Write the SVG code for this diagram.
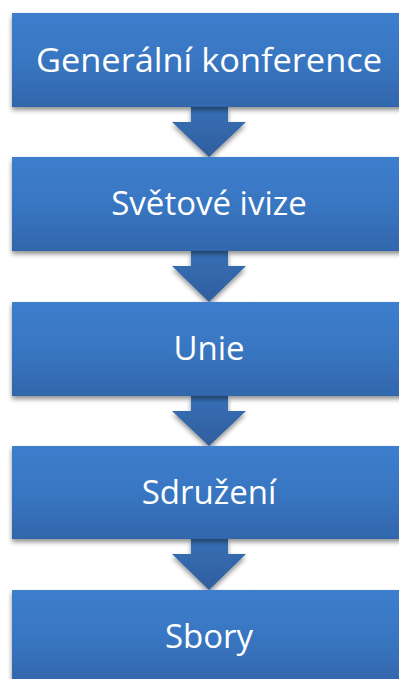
<svg xmlns="http://www.w3.org/2000/svg" width="399" height="679" viewBox="0 0 399 679">
<defs>
<linearGradient id="gBox" x1="0" y1="0" x2="0" y2="1">
<stop offset="0" stop-color="#3c7ecd"/>
<stop offset="0.5" stop-color="#3976c2"/>
<stop offset="1" stop-color="#3266ab"/>
</linearGradient>
<linearGradient id="gArr" x1="0" y1="0" x2="0" y2="1">
<stop offset="0" stop-color="#3770b6"/>
<stop offset="1" stop-color="#2f5e9d"/>
</linearGradient>
<filter id="sh" x="-10%" y="-10%" width="120%" height="140%">
<feGaussianBlur in="SourceAlpha" stdDeviation="2.5"/>
<feOffset dx="0" dy="3" result="b"/>
<feComponentTransfer><feFuncA type="linear" slope="0.45"/></feComponentTransfer>
<feMerge><feMergeNode/><feMergeNode in="SourceGraphic"/></feMerge>
</filter>
</defs>
<style>
.box{fill:url(#gBox);filter:url(#sh)}
.arr{fill:url(#gArr);filter:url(#sh)}
.lbl{font-family:"Open Sans","Noto Sans","Liberation Sans",sans-serif;font-size:33px;fill:#ffffff;text-anchor:middle}
</style>
<rect width="399" height="679" fill="#ffffff"/>
<g id="connectors">
<path class="arr" d="M191,107 H228 V122 H246 L209,157 L172,122 H191 Z"/>
<path class="arr" d="M191,251 H228 V266 H246 L209,302 L172,266 H191 Z"/>
<path class="arr" d="M191,396 H228 V411 H246 L209,446 L172,411 H191 Z"/>
<path class="arr" d="M191,539 H228 V554 H246 L209,590 L172,554 H191 Z"/>
</g>
<g id="n1"><rect class="box" x="12" y="13" width="394" height="94"/><text class="lbl" x="209" y="72" textLength="346" lengthAdjust="spacingAndGlyphs">Generální konference</text></g>
<g id="n2"><rect class="box" x="12" y="157" width="394" height="94"/><text class="lbl" x="209" y="215">Světové ivize</text></g>
<g id="n3"><rect class="box" x="12" y="302" width="394" height="94"/><text class="lbl" x="209" y="360">Unie</text></g>
<g id="n4"><rect class="box" x="12" y="446" width="394" height="93"/><text class="lbl" x="209" y="504">Sdružení</text></g>
<g id="n5"><rect class="box" x="12" y="590" width="394" height="94"/><text class="lbl" x="209" y="648">Sbory</text></g>
</svg>
